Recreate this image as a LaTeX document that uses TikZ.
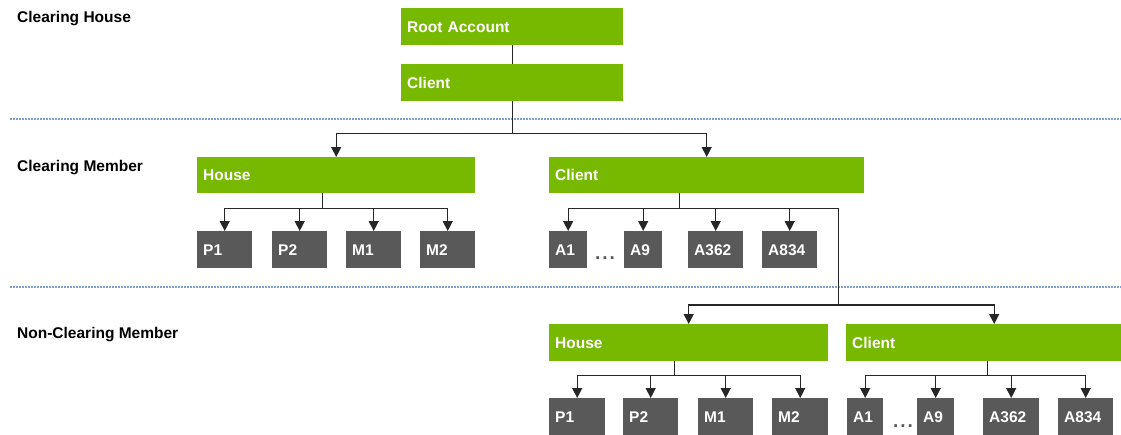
\documentclass[tikz,border=0pt]{standalone}
\usepackage{fontspec}
\setmainfont{Liberation Sans}
\usetikzlibrary{arrows.meta}
\definecolor{nvgreen}{HTML}{76B900}
\definecolor{boxgray}{HTML}{595959}
\definecolor{sepblue}{HTML}{7A9FD8}
\newcommand\boxfont{\fontsize{15.5}{18}\selectfont\bfseries}
\tikzset{
  lbl/.style={font=\boxfont, text=black, anchor=base west, inner sep=0pt},
  gbox/.style={fill=nvgreen, text=white, font=\boxfont, anchor=north west,
    inner xsep=6pt, inner ysep=0pt, minimum height=37pt,
    text height=11.1pt, text depth=0pt, align=left},
  kbox/.style={gbox, fill=boxgray},
  conn/.style={line width=1.3pt, draw=black!85},
  arr/.style={conn, -{Triangle[width=10pt,length=10pt]}},
  sep/.style={draw=sepblue, line width=1.5pt, dash pattern=on 1.5pt off 1.5pt},
  dotsn/.style={font=\fontsize{19}{22}\selectfont\bfseries, text=boxgray, anchor=base, inner sep=0pt}
}
\begin{document}
\begin{tikzpicture}[x=1pt,y=1pt]
\useasboundingbox (0,0) rectangle (1121,-434);

% separators
\draw[sep] (10,-119) -- (1121,-119);
\draw[sep] (10,-287) -- (1121,-287);

% level labels
\node[lbl] (lch) at (17,-22) {Clearing House};
\node[lbl] (lcm) at (17,-171) {Clearing Member};
\node[lbl] (lncm) at (17,-338.5) {Non-Clearing Member};

% clearing house
\node[gbox, text width=210pt] (root) at (401,-8) {Root Account};
\node[gbox, text width=210pt] (client) at (401,-64) {Client};

% clearing member
\node[gbox, text width=266pt, minimum height=36pt] (cmhouse) at (197,-157) {House};
\node[gbox, text width=303pt, minimum height=36pt] (cmclient) at (549,-157) {Client};

\node[kbox, text width=43pt] (p1) at (197,-231) {P1};
\node[kbox, text width=43pt] (p2) at (272,-231) {P2};
\node[kbox, text width=43pt] (m1) at (346,-231) {M1};
\node[kbox, text width=43pt] (m2) at (420,-231) {M2};

\node[kbox, text width=26pt] (a1) at (549,-231) {A1};
\node[kbox, text width=26pt] (a9) at (624,-231) {A9};
\node[kbox, text width=43pt] (a362) at (688,-231) {A362};
\node[kbox, text width=43pt] (a834) at (762,-231) {A834};
\node[dotsn] (dots1) at (605,-259.5) {.\hspace{2pt}.\hspace{2pt}.};

% non-clearing member
\node[gbox, text width=267pt] (nhouse) at (549,-324) {House};
\node[gbox, text width=263pt] (nclient) at (846,-324) {Client};

\node[kbox, text width=44pt] (np1) at (549,-398) {P1};
\node[kbox, text width=43pt] (np2) at (623,-398) {P2};
\node[kbox, text width=43pt] (nm1) at (698,-398) {M1};
\node[kbox, text width=44pt] (nm2) at (772,-398) {M2};

\node[kbox, text width=24pt] (na1) at (847,-398) {A1};
\node[kbox, text width=25pt] (na9) at (917,-398) {A9};
\node[kbox, text width=44pt] (na362) at (983,-398) {A362};
\node[kbox, text width=43pt] (na834) at (1058,-398) {A834};
\node[dotsn] (dots2) at (903,-427.5) {.\hspace{2pt}.\hspace{2pt}.};

% connectors
\draw[conn] (root) -- (client);
\coordinate (tj) at ([yshift=-32pt]client.south);
\draw[conn] (client.south) -- (tj);
\draw[arr] (tj) -| (cmhouse.north);
\draw[arr] (tj) -| (cmclient.north);

\coordinate (hj) at ([xshift=-14pt,yshift=-15pt]cmhouse.south);
\draw[conn] (hj |- cmhouse.south) -- (hj);
\foreach \c in {p1,p2,m1,m2} \draw[arr] (hj) -| (\c.north);

\coordinate (cj) at ([xshift=-27.5pt,yshift=-15pt]cmclient.south);
\draw[conn] (cj |- cmclient.south) -- (cj);
\foreach \c in {a1,a9,a362,a834} \draw[arr] (cj) -| (\c.north);

\coordinate (nj) at (838.5,-305);
\draw[conn] (a834.north |- cj) -| (nj);
\draw[arr] (nj) -| (nhouse.north);
\draw[arr] (nj) -| ([xshift=10.5pt]nclient.north);

\coordinate (nhj) at ([xshift=-14.5pt,yshift=-14pt]nhouse.south);
\draw[conn] (nhj |- nhouse.south) -- (nhj);
\foreach \c in {np1,np2,nm1,nm2} \draw[arr] (nhj) -| (\c.north);

\coordinate (ncj) at ([xshift=3.5pt,yshift=-14pt]nclient.south);
\draw[conn] (ncj |- nclient.south) -- (ncj);
\foreach \c in {na1,na9,na362,na834} \draw[arr] (ncj) -| (\c.north);
\end{tikzpicture}
\end{document}
